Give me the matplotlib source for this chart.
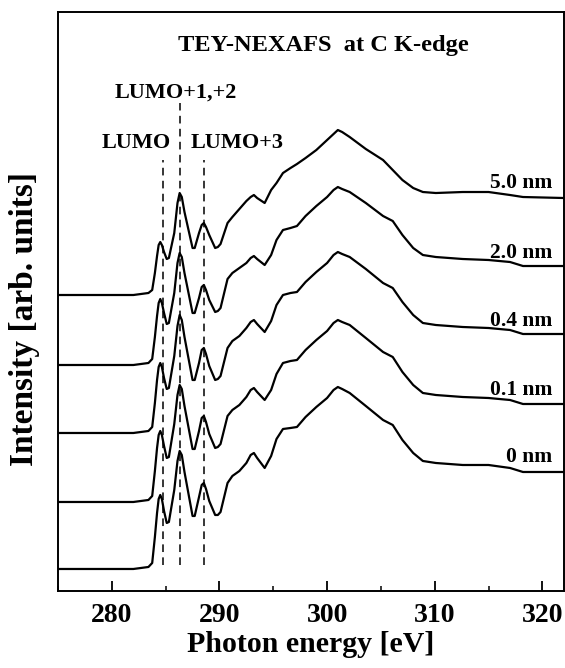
import matplotlib
matplotlib.use("Agg")
import matplotlib.pyplot as plt
from matplotlib.ticker import MultipleLocator

plt.rcParams['font.family'] = ['Liberation Serif', 'DejaVu Serif']
plt.rcParams['font.weight'] = 'bold'

# photon energy grid (eV)
energy = [275.0, 282.0, 283.4, 283.75, 284.0, 284.2, 284.35, 284.5, 284.65, 284.85,
          285.1, 285.3, 285.8, 286.1, 286.3, 286.5, 286.75, 287.5, 287.7, 288.1,
          288.35, 288.55, 288.75, 289.05, 289.6, 289.85, 290.1, 290.75, 291.2, 291.85,
          292.5, 292.9, 293.2, 293.5, 294.2, 294.8, 295.3, 295.9, 296.6, 297.2,
          298.0, 299.0, 300.0, 300.6, 301.0, 301.4, 302.1, 303.6, 305.2, 306.1,
          307.0, 308.0, 308.9, 310.1, 312.6, 315.0, 317.0, 318.2, 322.0]

# intensities above each baseline (arb. units)
tey_0nm = [0, 0, 2, 6, 32, 56, 70, 74, 70, 58,
           46, 47, 79, 108, 118, 114, 97, 53, 53, 72,
           84, 86, 80, 68, 54, 54, 57, 86, 93, 98,
           106, 114, 116, 111, 101, 113, 130, 140, 141, 142,
           152, 162, 171, 179, 182, 180, 176, 163, 149, 144,
           129, 116, 108, 106, 104, 104, 101, 97, 97]
tey_01nm = [0, 0, 2, 6, 31, 54, 67, 71, 67, 56,
            44, 45, 78, 107, 117, 113, 96, 53, 53, 71,
            84, 86, 80, 68, 54, 55, 58, 86, 92, 97,
            105, 112, 114, 110, 102, 112, 128, 139, 141, 142,
            152, 162, 171, 179, 182, 180, 177, 164, 150, 145,
            130, 117, 109, 107, 105, 104, 102, 98, 98]
tey_04nm = [0, 0, 2, 6, 30, 53, 66, 70, 66, 55,
            44, 45, 77, 107, 118, 113, 96, 53, 53, 70,
            83, 85, 79, 67, 53, 54, 57, 85, 92, 97,
            105, 111, 113, 109, 101, 112, 128, 138, 140, 141,
            151, 161, 170, 178, 181, 179, 176, 164, 150, 145,
            131, 118, 110, 108, 106, 105, 103, 99, 99]
tey_20nm = [0, 0, 2, 6, 28, 49, 62, 66, 62, 52,
            41, 42, 72, 102, 112, 108, 92, 52, 52, 67,
            78, 80, 75, 65, 53, 54, 57, 86, 92, 97,
            102, 107, 109, 106, 100, 110, 125, 135, 137, 139,
            149, 159, 168, 175, 178, 176, 173, 162, 149, 144,
            130, 117, 110, 108, 106, 105, 103, 99, 99]
tey_50nm = [0, 0, 2, 5, 22, 39, 50, 53, 50, 43,
            36, 37, 62, 92, 102, 98, 83, 47, 47, 62,
            70, 72, 68, 60, 47, 48, 51, 72, 78, 86,
            94, 98, 100, 97, 92, 105, 112, 122, 127, 131,
            137, 145, 155, 161, 165, 163, 158, 146, 135, 125,
            115, 107, 103, 102, 103, 103, 100, 98, 97]

labels = ["0 nm", "0.1 nm", "0.4 nm", "2.0 nm", "5.0 nm"]
offsets = [22, 89, 158, 226, 296]
spectra = [tey_0nm, tey_01nm, tey_04nm, tey_20nm, tey_50nm]

# resonance positions (eV) and label names
peak_pos = [284.74, 286.36, 288.59]
peak_names = ["LUMO", "LUMO+1,+2", "LUMO+3"]
peak_top = [431, 488, 431]

fig = plt.figure(figsize=(5.65, 6.68), dpi=100)
ax = fig.add_axes([0.1027, 0.1153, 0.8953, 0.8667])

for lab, off, spec in zip(labels, offsets, spectra):
    ax.plot(energy, [v + off for v in spec], color='black', linewidth=1.6)
    ax.text(320.9, off + 112, lab, ha='right', va='center', fontsize=15.5, fontweight='bold')

for pos, top in zip(peak_pos, peak_top):
    ax.plot([pos, pos], [26, top], color='black', linewidth=1.1, linestyle=(0, (5, 3.5)))

ax.text(282.3, 448, peak_names[0], ha='center', va='center', fontsize=16, fontweight='bold')
ax.text(285.9, 498, peak_names[1], ha='center', va='center', fontsize=16, fontweight='bold')
ax.text(291.6, 448, peak_names[2], ha='center', va='center', fontsize=16, fontweight='bold')

ax.text(299.7, 546, "TEY-NEXAFS  at C K-edge", ha='center', va='center',
        fontsize=17.6, fontweight='bold')

ax.set_xlim(275, 322)
ax.set_ylim(0, 579)
ax.set_yticks([])
ax.xaxis.set_major_locator(MultipleLocator(10))
ax.xaxis.set_minor_locator(MultipleLocator(5))
ax.tick_params(axis='x', which='major', direction='in', length=7, width=1.3,
               labelsize=20, pad=9)
ax.tick_params(axis='x', which='minor', direction='in', length=3.5, width=1.1)
for sp in ax.spines.values():
    sp.set_linewidth(1.4)

ax.set_xlabel("Photon energy [eV]", fontsize=21.5, fontweight='bold', labelpad=2)
ax.set_ylabel("Intensity [arb. units]", fontsize=24, fontweight='bold')
ax.yaxis.set_label_coords(-0.036, 0.47)

fig.savefig("out.png", dpi=100)
